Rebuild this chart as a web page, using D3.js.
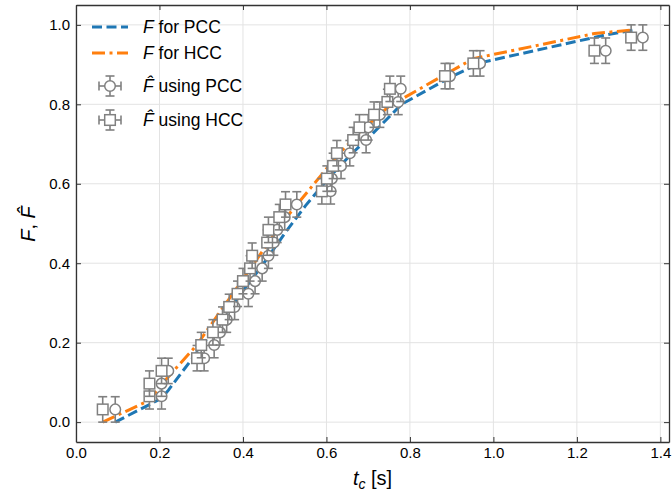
<!DOCTYPE html>
<html>
<head>
<meta charset="utf-8">
<script src="https://cdn.jsdelivr.net/npm/d3@7"></script>
<style>
  body { margin: 0; background: #fff; }
  text { font-family: "Liberation Sans", Arial, sans-serif; }
</style>
</head>
<body>
<svg id="chart" width="672" height="493"></svg>
<script>
// empirical values F-hat (same levels for both methods)
var fHat = [0.032, 0.065, 0.097, 0.129, 0.161, 0.194, 0.226, 0.258, 0.290, 0.323,
    0.355, 0.387, 0.419, 0.452, 0.484, 0.516, 0.548, 0.581, 0.613, 0.645,
    0.677, 0.710, 0.742, 0.774, 0.806, 0.839, 0.871, 0.903, 0.935, 0.968];
var fHatErr = 0.032;

// t_c for each point
var tPcc = [0.094, 0.205, 0.205, 0.221, 0.307, 0.331, 0.345, 0.361, 0.380, 0.413,
    0.429, 0.446, 0.461, 0.474, 0.482, 0.500, 0.529, 0.610, 0.613, 0.635,
    0.656, 0.695, 0.700, 0.728, 0.772, 0.778, 0.896, 0.968, 1.269, 1.358];
var tHcc = [0.064, 0.176, 0.176, 0.205, 0.290, 0.300, 0.328, 0.351, 0.367, 0.387,
    0.400, 0.417, 0.422, 0.458, 0.461, 0.487, 0.502, 0.589, 0.601, 0.616,
    0.625, 0.664, 0.679, 0.714, 0.746, 0.752, 0.884, 0.952, 1.242, 1.330];

// fitted curves
var fitPccT = [0.094, 0.205, 0.221, 0.307, 0.331, 0.361, 0.40, 0.45, 0.50, 0.55,
    0.61, 0.66, 0.70, 0.78, 0.90, 0.97, 1.27, 1.335];
var fitPccF = [0.0, 0.06, 0.08, 0.20, 0.235, 0.275, 0.33, 0.40, 0.475, 0.545,
    0.62, 0.675, 0.715, 0.80, 0.87, 0.905, 0.975, 0.987];
var fitHccT = [0.064, 0.176, 0.205, 0.29, 0.33, 0.37, 0.42, 0.46, 0.50, 0.59,
    0.625, 0.68, 0.75, 0.884, 0.952, 1.242, 1.33];
var fitHccF = [0.0, 0.055, 0.095, 0.195, 0.255, 0.315, 0.39, 0.45, 0.51, 0.625,
    0.67, 0.73, 0.795, 0.875, 0.915, 0.978, 0.987];

var xTicks = [0.0, 0.2, 0.4, 0.6, 0.8, 1.0, 1.2, 1.4];
var yTicks = [0.0, 0.2, 0.4, 0.6, 0.8, 1.0];

var margin = {top: 5, right: 3, bottom: 51, left: 76};
var svg = d3.select("#chart");
var width = +svg.attr("width") - margin.left - margin.right;
var height = +svg.attr("height") - margin.top - margin.bottom;

var x = d3.scaleLinear().domain([0, 1.4207]).range([0, width]);
var y = d3.scaleLinear().domain([-0.05, 1.05]).range([height, 0]);

var g = svg.append("g").attr("transform", "translate(" + margin.left + "," + margin.top + ")");

// grid
g.selectAll(".gx").data(xTicks).enter().append("line")
    .attr("x1", function (d) { return x(d); }).attr("x2", function (d) { return x(d); })
    .attr("y1", 0).attr("y2", height)
    .attr("stroke", "#e3e3e3").attr("stroke-width", 1);
g.selectAll(".gy").data(yTicks).enter().append("line")
    .attr("y1", function (d) { return y(d); }).attr("y2", function (d) { return y(d); })
    .attr("x1", 0).attr("x2", width)
    .attr("stroke", "#e3e3e3").attr("stroke-width", 1);

// fitted lines
var line = d3.line()
    .x(function (d) { return x(d[0]); })
    .y(function (d) { return y(d[1]); });

g.append("path")
    .datum(d3.zip(fitPccT, fitPccF))
    .attr("d", line)
    .attr("fill", "none")
    .attr("stroke", "#1f77b4")
    .attr("stroke-width", 3)
    .attr("stroke-dasharray", "10,4.5");

g.append("path")
    .datum(d3.zip(fitHccT, fitHccF))
    .attr("d", line)
    .attr("fill", "none")
    .attr("stroke", "#ff7f0e")
    .attr("stroke-width", 3)
    .attr("stroke-dasharray", "13,4.5,3,4.5");

// error bars + markers
var grey = "#808080";
function drawPoints(tArr, shape) {
    var pts = d3.zip(tArr, fHat);
    var pg = g.append("g");
    var e = pg.selectAll("g").data(pts).enter().append("g");
    e.append("line")
        .attr("x1", function (d) { return x(d[0]); }).attr("x2", function (d) { return x(d[0]); })
        .attr("y1", function (d) { return y(d[1] - fHatErr); })
        .attr("y2", function (d) { return y(d[1] + fHatErr); })
        .attr("stroke", grey).attr("stroke-width", 1.6);
    [-1, 1].forEach(function (s) {
        e.append("line")
            .attr("x1", function (d) { return x(d[0]) - 4.5; })
            .attr("x2", function (d) { return x(d[0]) + 4.5; })
            .attr("y1", function (d) { return y(d[1] + s * fHatErr); })
            .attr("y2", function (d) { return y(d[1] + s * fHatErr); })
            .attr("stroke", grey).attr("stroke-width", 1.6);
    });
    if (shape === "circle") {
        e.append("circle")
            .attr("cx", function (d) { return x(d[0]); })
            .attr("cy", function (d) { return y(d[1]); })
            .attr("r", 5.3)
            .attr("fill", "#fff").attr("stroke", grey).attr("stroke-width", 1.5);
    } else {
        e.append("rect")
            .attr("x", function (d) { return x(d[0]) - 5.3; })
            .attr("y", function (d) { return y(d[1]) - 5.3; })
            .attr("width", 10.6).attr("height", 10.6)
            .attr("fill", "#fff").attr("stroke", grey).attr("stroke-width", 1.5);
    }
}
drawPoints(tPcc, "circle");
drawPoints(tHcc, "square");

// axes, ticks inward on all sides
var fmt = d3.format(".1f");
var axB = g.append("g").attr("transform", "translate(0," + height + ")")
    .call(d3.axisBottom(x).tickValues(xTicks).tickFormat(fmt).tickSizeInner(-5).tickSizeOuter(0).tickPadding(5));
var axL = g.append("g")
    .call(d3.axisLeft(y).tickValues(yTicks).tickFormat(fmt).tickSizeInner(-5).tickSizeOuter(0).tickPadding(6));
var axT = g.append("g")
    .call(d3.axisTop(x).tickValues(xTicks).tickFormat("").tickSizeInner(-5).tickSizeOuter(0));
var axR = g.append("g").attr("transform", "translate(" + width + ",0)")
    .call(d3.axisRight(y).tickValues(yTicks).tickFormat("").tickSizeInner(-5).tickSizeOuter(0));

[axB, axL, axT, axR].forEach(function (a) {
    a.select(".domain").attr("stroke", "#333").attr("stroke-width", 1.3);
    a.selectAll(".tick line").attr("stroke", "#333").attr("stroke-width", 1);
    a.selectAll(".tick text").attr("fill", "#000").style("font-size", "15px")
        .style("font-family", "Liberation Sans, Arial, sans-serif");
});

// axis labels
svg.append("text")
    .attr("x", margin.left + width / 2)
    .attr("y", 485)
    .attr("text-anchor", "middle")
    .style("font-size", "20px")
    .html('<tspan font-style="italic">t</tspan><tspan font-style="italic" font-size="14px" dy="4">c</tspan><tspan dy="-4"> [s]</tspan>');

svg.append("text")
    .attr("transform", "translate(35,224) rotate(-90)")
    .attr("text-anchor", "middle")
    .style("font-size", "20px")
    .html('<tspan font-style="italic">F</tspan>, <tspan font-style="italic">F\u0302</tspan>');

// legend
var lg = svg.append("g");
var legendRows = [
    {type: "line", color: "#1f77b4", dash: "10,4.5", label: "F", rest: " for PCC"},
    {type: "line", color: "#ff7f0e", dash: "13,4.5,3,4.5", label: "F", rest: " for HCC"},
    {type: "circle", label: "F\u0302", rest: " using PCC"},
    {type: "square", label: "F\u0302", rest: " using HCC"}
];
var rowY = [27, 53, 86, 120];
legendRows.forEach(function (r, i) {
    var cy = rowY[i];
    if (r.type === "line") {
        lg.append("line").attr("x1", 92).attr("x2", 128).attr("y1", cy).attr("y2", cy)
            .attr("stroke", r.color).attr("stroke-width", 3).attr("stroke-dasharray", r.dash);
    } else {
        var cx = 110;
        lg.append("line").attr("x1", cx - 11).attr("x2", cx + 11).attr("y1", cy).attr("y2", cy)
            .attr("stroke", grey).attr("stroke-width", 1.6);
        lg.append("line").attr("x1", cx - 11).attr("x2", cx - 11).attr("y1", cy - 4.5).attr("y2", cy + 4.5)
            .attr("stroke", grey).attr("stroke-width", 1.6);
        lg.append("line").attr("x1", cx + 11).attr("x2", cx + 11).attr("y1", cy - 4.5).attr("y2", cy + 4.5)
            .attr("stroke", grey).attr("stroke-width", 1.6);
        lg.append("line").attr("x1", cx).attr("x2", cx).attr("y1", cy - 10).attr("y2", cy + 10)
            .attr("stroke", grey).attr("stroke-width", 1.6);
        lg.append("line").attr("x1", cx - 4.5).attr("x2", cx + 4.5).attr("y1", cy - 10).attr("y2", cy - 10)
            .attr("stroke", grey).attr("stroke-width", 1.6);
        lg.append("line").attr("x1", cx - 4.5).attr("x2", cx + 4.5).attr("y1", cy + 10).attr("y2", cy + 10)
            .attr("stroke", grey).attr("stroke-width", 1.6);
        if (r.type === "circle") {
            lg.append("circle").attr("cx", cx).attr("cy", cy).attr("r", 5.3)
                .attr("fill", "#fff").attr("stroke", grey).attr("stroke-width", 1.5);
        } else {
            lg.append("rect").attr("x", cx - 5.3).attr("y", cy - 5.3).attr("width", 10.6).attr("height", 10.6)
                .attr("fill", "#fff").attr("stroke", grey).attr("stroke-width", 1.5);
        }
    }
    lg.append("text").attr("x", 143).attr("y", cy + 6)
        .style("font-size", "17.5px")
        .html('<tspan font-style="italic">' + r.label + '</tspan>' + r.rest);
});
</script>
</body>
</html>
